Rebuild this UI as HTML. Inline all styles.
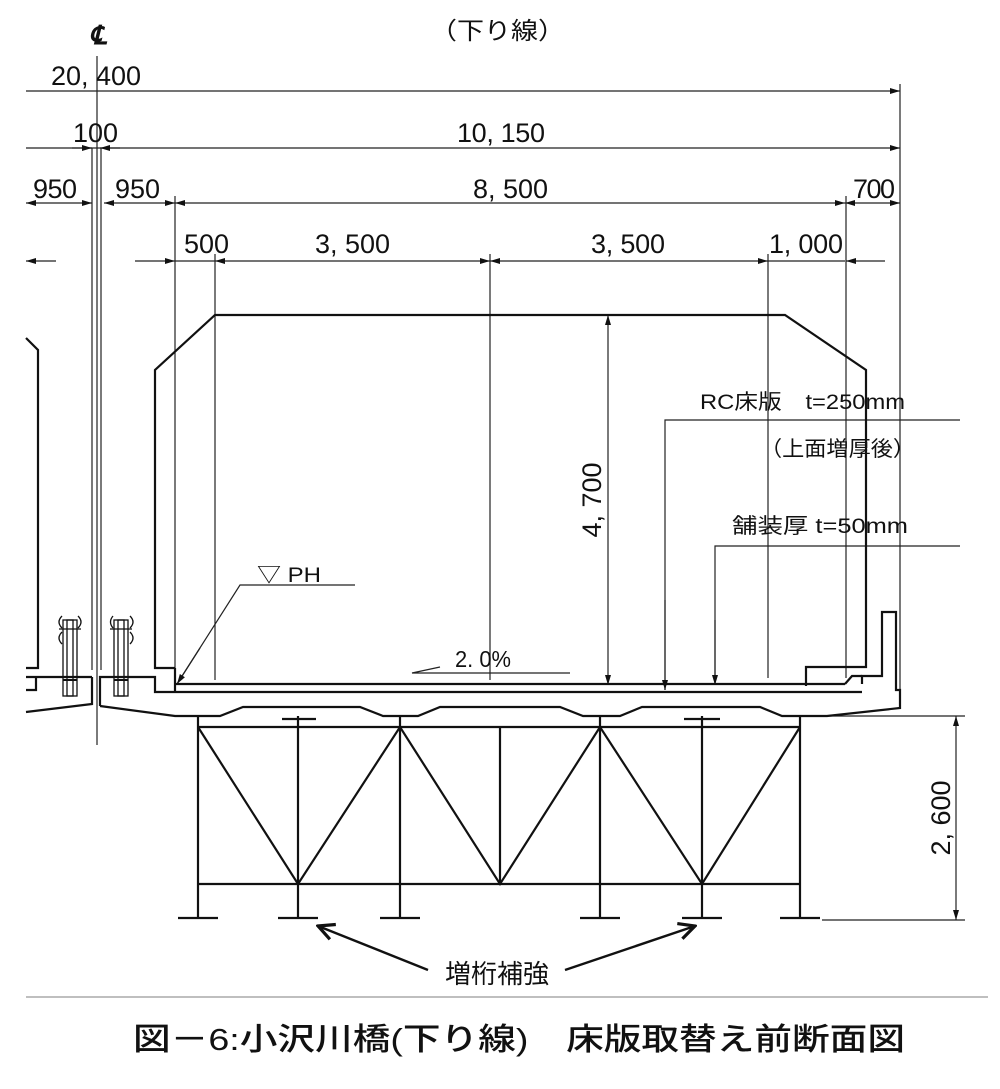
<!DOCTYPE html>
<html><head><meta charset="utf-8"><style>
html,body{margin:0;padding:0;background:#fff;}
svg{display:block;}
text{font-family:"Liberation Sans","Noto Sans CJK JP",sans-serif;fill:#111;}
</style></head><body>
<svg width="1000" height="1089" viewBox="0 0 1000 1089" xmlns="http://www.w3.org/2000/svg">
<defs>
<marker id="a" viewBox="0 0 10 6" refX="10" refY="3" markerWidth="14" markerHeight="6" orient="auto-start-reverse" markerUnits="userSpaceOnUse"><path d="M0,0L10,3L0,6z" fill="#111"/></marker>
<marker id="b" viewBox="0 0 10 10" refX="9" refY="5" markerWidth="20" markerHeight="20" orient="auto" markerUnits="userSpaceOnUse"><path d="M1,1L9,5L1,9" fill="none" stroke="#111" stroke-width="1.6"/></marker>
</defs>
<g stroke="#222" stroke-width="1.2" fill="none">
<line x1="26" y1="91" x2="900" y2="91" marker-end="url(#a)"/>
<line x1="26" y1="148" x2="900" y2="148" marker-end="url(#a)"/>
<line x1="72" y1="148" x2="92" y2="148" marker-end="url(#a)"/>
<line x1="120" y1="148" x2="100" y2="148" marker-end="url(#a)"/>
<line x1="26" y1="203" x2="92" y2="203" marker-start="url(#a)" marker-end="url(#a)"/>
<line x1="104" y1="203" x2="175" y2="203" marker-start="url(#a)" marker-end="url(#a)"/>
<line x1="175" y1="203" x2="845" y2="203" marker-start="url(#a)" marker-end="url(#a)"/>
<line x1="845" y1="203" x2="900" y2="203" marker-start="url(#a)" marker-end="url(#a)"/>
<line x1="26" y1="261" x2="56" y2="261" marker-start="url(#a)"/>
<line x1="135" y1="261" x2="175" y2="261" marker-end="url(#a)"/>
<line x1="175" y1="261" x2="215" y2="261"/>
<line x1="215" y1="261" x2="490" y2="261" marker-start="url(#a)" marker-end="url(#a)"/>
<line x1="490" y1="261" x2="768" y2="261" marker-start="url(#a)" marker-end="url(#a)"/>
<line x1="768" y1="261" x2="845" y2="261"/>
<line x1="885" y1="261" x2="846" y2="261" marker-end="url(#a)"/>
<line x1="900" y1="84" x2="900" y2="690"/>
<line x1="175" y1="196" x2="175" y2="680"/>
<line x1="215" y1="254" x2="215" y2="680"/>
<line x1="490" y1="254" x2="490" y2="680"/>
<line x1="768" y1="254" x2="768" y2="678"/>
<line x1="846" y1="196" x2="846" y2="678"/>
<line x1="608" y1="315" x2="608" y2="685" marker-start="url(#a)" marker-end="url(#a)"/>
<line x1="97" y1="56" x2="97" y2="745"/>
<line x1="92" y1="148" x2="92" y2="670"/>
<line x1="101" y1="148" x2="101" y2="670"/>
<polyline points="960,420 665,420 665,690"/>
<line x1="665" y1="600" x2="665" y2="690" marker-end="url(#a)"/>
<polyline points="960,546 715,546 715,685"/>
<line x1="715" y1="620" x2="715" y2="685" marker-end="url(#a)"/>
<polyline points="355,585 240,585 177,684"/>
<line x1="200" y1="648" x2="177" y2="684" marker-end="url(#a)"/>
<polyline points="440,667 412,673 570,673"/>
<line x1="800" y1="716" x2="965" y2="716"/>
<line x1="822" y1="920" x2="965" y2="920"/>
<line x1="956" y1="716" x2="956" y2="920" marker-start="url(#a)" marker-end="url(#a)"/>
<line x1="26" y1="997" x2="988" y2="997" stroke="#999"/>
</g>
<g stroke="#111" stroke-width="2.2" fill="none">
<polyline points="175,668 155,668 155,370 215,315 785,315 866,370 866,667 806,667 806,686"/>
<polyline points="26,338 38,350 38,668 26,668"/>
<line x1="175" y1="684" x2="845" y2="684"/>
<line x1="175" y1="692" x2="862" y2="692"/>
<polyline points="175,668 175,692"/>
<polyline points="100,706 175,716 220,716 243,707 360,707 383,716 418,716 440,707 560,707 583,716 620,716 642,707 760,707 782,716 827,716 900,708 900,690 896,690 896,612 882,612 882,676 862,676 862,684"/>
<polyline points="845,684 852,676 862,676"/>
<polyline points="100,706 100,677 155,677 155,692 175,692"/>
<polyline points="92,677 26,677"/>
<polyline points="26,712 92,704 92,677"/>
<polyline points="26,690 36,690 36,677"/>
<line x1="198" y1="727" x2="800" y2="727"/>
<line x1="198" y1="884" x2="800" y2="884"/>
<line x1="198" y1="716" x2="198" y2="918"/>
<line x1="298" y1="716" x2="298" y2="918"/>
<line x1="400" y1="716" x2="400" y2="918"/>
<line x1="500" y1="727" x2="500" y2="884"/>
<line x1="600" y1="716" x2="600" y2="918"/>
<line x1="702" y1="716" x2="702" y2="918"/>
<line x1="800" y1="716" x2="800" y2="918"/>
<polyline points="198,727 298,884 400,727 500,884 600,727 702,884 800,727"/>
<line x1="178" y1="918" x2="218" y2="918"/><line x1="278" y1="918" x2="318" y2="918"/>
<line x1="380" y1="918" x2="420" y2="918"/><line x1="580" y1="918" x2="620" y2="918"/>
<line x1="682" y1="918" x2="722" y2="918"/><line x1="780" y1="918" x2="820" y2="918"/>
<line x1="282" y1="719" x2="316" y2="719"/><line x1="684" y1="719" x2="720" y2="719"/>
</g>
<g stroke="#111" stroke-width="1.3" fill="none">
<rect x="63" y="620" width="14" height="76"/><rect x="67" y="620" width="6" height="76"/>
<rect x="114" y="620" width="14" height="76"/><rect x="118" y="620" width="6" height="76"/>
<line x1="59" y1="629" x2="81" y2="629"/><line x1="110" y1="629" x2="132" y2="629"/>
<path d="M62,616 Q56,622 62,628 M62,632 Q56,638 62,644 M78,616 Q84,622 78,628"/>
<path d="M130,616 Q136,622 130,628 M130,632 Q136,638 130,644 M113,616 Q108,622 113,628"/>
<line x1="63" y1="680" x2="77" y2="680" stroke-width="2"/><line x1="114" y1="680" x2="128" y2="680" stroke-width="2"/>
</g>
<g stroke="#111" stroke-width="2.4" fill="none">
<line x1="428" y1="970" x2="318" y2="926" marker-end="url(#b)"/>
<line x1="565" y1="970" x2="695" y2="926" marker-end="url(#b)"/>
</g>
<text x="98" y="44" font-size="26" font-weight="bold" font-style="italic" text-anchor="middle">℄</text>
<text x="430" y="39" font-size="24" textLength="135" lengthAdjust="spacingAndGlyphs">（下り線）</text>
<g font-size="27" lengthAdjust="spacingAndGlyphs">
<text x="51" y="85" textLength="90">20, 400</text>
<text x="73" y="142" textLength="45">100</text>
<text x="457" y="142" textLength="88">10, 150</text>
<text x="33" y="198" textLength="44">950</text>
<text x="115" y="198" textLength="45">950</text>
<text x="473" y="198" textLength="75">8, 500</text>
<text x="853" y="198" textLength="42">700</text>
<text x="184" y="253" textLength="45">500</text>
<text x="315" y="253" textLength="75">3, 500</text>
<text x="591" y="253" textLength="74">3, 500</text>
<text x="769" y="253" textLength="74">1, 000</text>
</g>
<text transform="translate(601,500) rotate(-90)" font-size="27" text-anchor="middle">4, 700</text>
<text transform="translate(950,818) rotate(-90)" font-size="27" text-anchor="middle">2, 600</text>
<text x="700" y="409" font-size="21" textLength="205" lengthAdjust="spacingAndGlyphs">RC床版　t=250mm</text>
<text x="760" y="456" font-size="21" textLength="155" lengthAdjust="spacingAndGlyphs">（上面増厚後）</text>
<text x="732" y="533" font-size="21" textLength="176" lengthAdjust="spacingAndGlyphs">舗装厚 t=50mm</text>
<text x="257" y="582" font-size="21" textLength="64" lengthAdjust="spacingAndGlyphs">▽ PH</text>
<text x="455" y="667" font-size="23" textLength="56" lengthAdjust="spacingAndGlyphs">2. 0%</text>
<text x="497" y="983" font-size="26" text-anchor="middle">増桁補強</text>
<text x="519" y="1050" font-size="31" text-anchor="middle" font-weight="500" textLength="772" lengthAdjust="spacingAndGlyphs">図－6:小沢川橋(下り線)　床版取替え前断面図</text>
</svg>
</body></html>
